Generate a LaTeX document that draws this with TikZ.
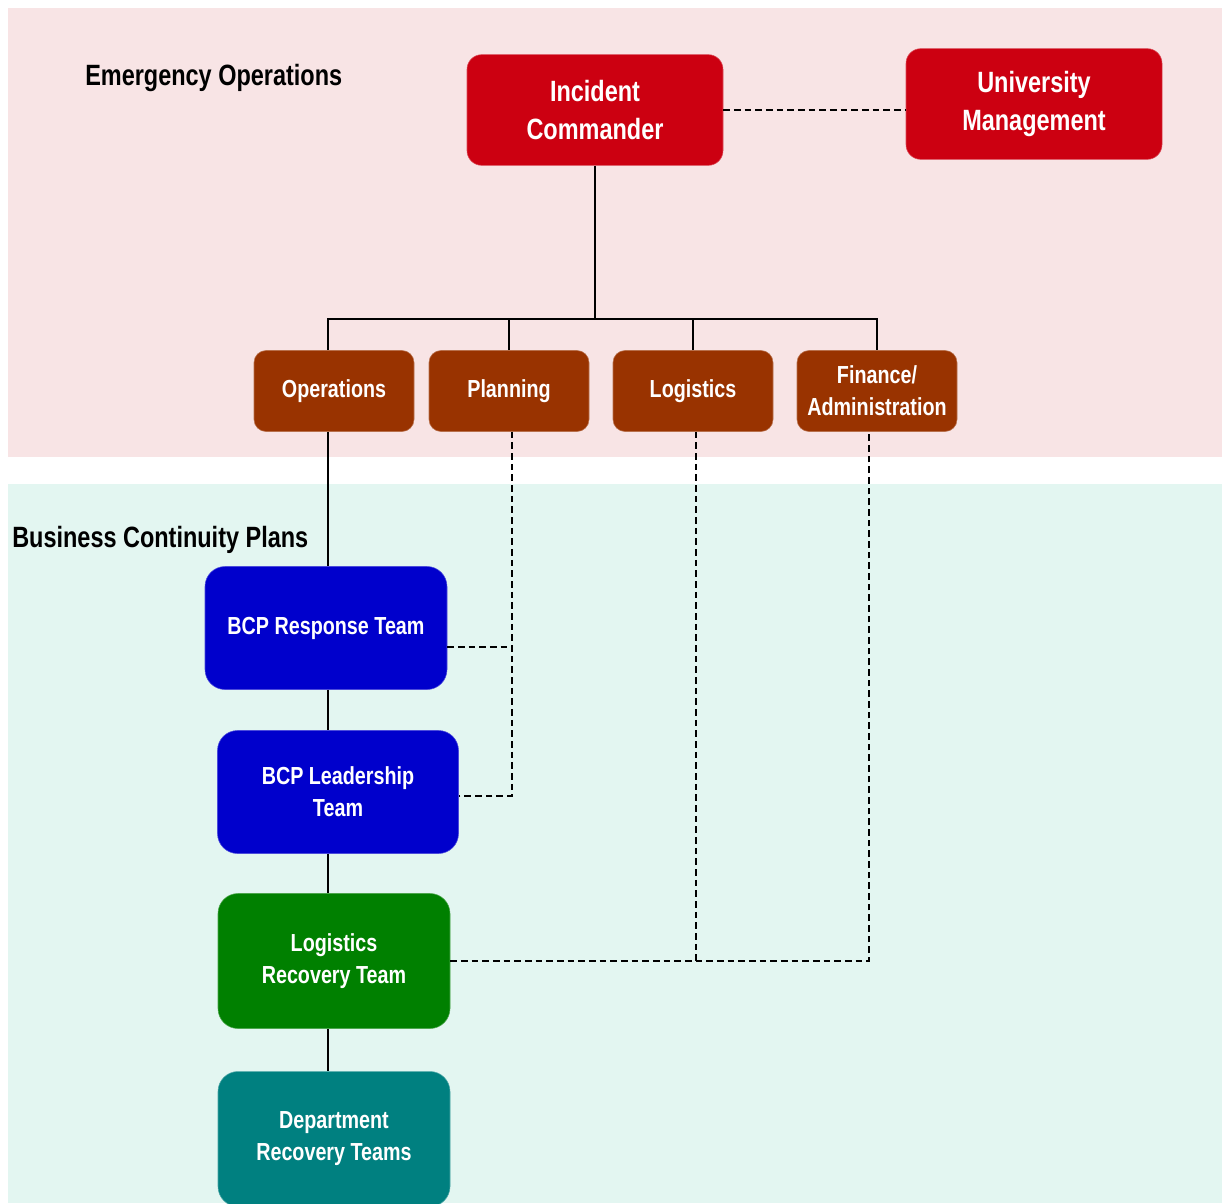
\documentclass[tikz,border=0pt]{standalone}
\usepackage{fontspec}
\setmainfont{Liberation Sans}[FakeStretch=0.8]
\definecolor{emergbg}{RGB}{248,228,229}
\definecolor{bcpbg}{RGB}{227,246,241}
\definecolor{icred}{RGB}{204,0,17}
\definecolor{secbrown}{RGB}{153,51,0}
\definecolor{bcpblue}{RGB}{0,0,204}
\definecolor{lrtgreen}{RGB}{0,128,0}
\definecolor{drtteal}{RGB}{0,128,128}
\begin{document}
\begin{tikzpicture}[x=0.75pt, y=-0.75pt,
    title/.style={anchor=west, inner sep=0pt, font=\bfseries\fontsize{22}{26}\selectfont},
    ec box/.style={fill=icred, draw=icred!70!white, line width=0.4pt, text=white, rounded corners=11pt,
      minimum width=192pt, minimum height=83pt, align=center, font=\bfseries\fontsize{22}{28.5}\selectfont},
    sec box/.style={fill=secbrown, draw=secbrown!70!white, line width=0.4pt, text=white, rounded corners=9pt,
      minimum width=120pt, minimum height=60.75pt, inner sep=2pt, align=center,
      font=\bfseries\fontsize{18.5}{24}\selectfont},
    bcp box/.style={draw=#1!70!white, fill=#1, line width=0.4pt, text=white, rounded corners=15pt,
      minimum height=92.25pt, align=center, font=\bfseries\fontsize{18.5}{24}\selectfont},
    link/.style={line width=1.1pt},
    dash link/.style={line width=1.1pt, dash pattern=on 5pt off 3pt}]
  \useasboundingbox (0,0) rectangle (1223,1203);
  \fill[emergbg] (8,8) rectangle (1222,457);
  \fill[bcpbg] (8,484) rectangle (1222,1203);

  \node[title] (emtitle) at (85,78) {Emergency Operations};
  \node[title] (bctitle) at (12,540) {Business Continuity Plans};

  \node[ec box] (ic) at (595,110) {Incident\\Commander};
  \node[ec box] (um) at (1034,104) {University\\Management};

  \node[sec box] (ops) at (334,391) {Operations};
  \node[sec box] (plan) at (509,391) {Planning};
  \node[sec box] (log) at (693,391) {Logistics};
  \node[sec box] (fin) at (877,391) {Finance/\\Administration};

  \node[bcp box=bcpblue, minimum width=181.5pt] (resp) at (326,628) {BCP Response Team};
  \node[bcp box=bcpblue, minimum width=180.75pt] (lead) at (338,792) {BCP Leadership\\Team};
  \node[bcp box=lrtgreen, minimum width=174pt, minimum height=101.25pt] (lrt) at (334,961) {Logistics\\Recovery Team};
  \node[bcp box=drtteal, minimum width=174pt, minimum height=101.25pt] (drt) at (334,1139) {Department\\Recovery Teams};

  \coordinate (bus) at (597,319);
  \coordinate (spine) at (328,0);

  \draw[dash link] (ic.east) -- (ic.east -| um.west);
  \draw[link] (ic.south) -- (ic.south |- bus);
  \draw[link] (ops.north -| spine) |- (bus) -| (fin.north);
  \draw[link] (plan.north) -- (plan.north |- bus);
  \draw[link] (log.north) -- (log.north |- bus);

  \draw[link] (ops.south -| spine) -- (resp.north -| spine);
  \foreach \a/\b in {resp/lead, lead/lrt, lrt/drt}{
      \draw[link] (\a.south -| spine) -- (\b.north -| spine);
  }

  \draw[dash link] (resp.-9) -- (resp.-9 -| plan.-86);
  \draw[dash link] (plan.-86) |- (lead.-2);
  \draw[dash link] (log.-86) -- (log.-86 |- lrt.east);
  \draw[dash link] (lrt.east) -| (fin.-101);
\end{tikzpicture}
\end{document}
